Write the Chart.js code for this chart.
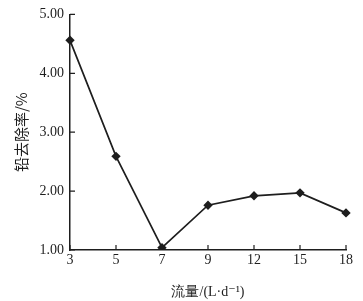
<!DOCTYPE html>
<html>
<head>
<meta charset="utf-8">
<script src="https://cdn.jsdelivr.net/npm/chart.js@4/dist/chart.umd.min.js"></script>
<style>
  html, body { margin: 0; padding: 0; background: #fff; }
  #wrap { width: 363px; height: 301px; }
</style>
</head>
<body>
<div id="wrap"><canvas id="chart" width="363" height="301"></canvas></div>
<script>
/* ================= DATA ================= */
const flows = ["3", "5", "7", "9", "12", "15", "18"];
const removal = [4.56, 2.59, 1.04, 1.76, 1.92, 1.97, 1.63];
const yTicks = [1, 2, 3, 4, 5];

const serif = "'Liberation Serif', 'DejaVu Serif', serif";
const ink = "#1e1e1e";

/* ================= INWARD TICK MARKS ================= */
const innerTicks = {
  id: "innerTicks",
  afterDraw(chart) {
    const ctx = chart.ctx;
    const x = chart.scales.x;
    const y = chart.scales.y;
    ctx.save();
    ctx.strokeStyle = ink;
    ctx.lineWidth = 1.2;
    ctx.beginPath();
    x.ticks.forEach((t, i) => {
      const px = x.getPixelForTick(i);
      ctx.moveTo(px, y.bottom);
      ctx.lineTo(px, y.bottom - 5);
    });
    y.ticks.forEach((t, i) => {
      const py = y.getPixelForTick(i);
      ctx.moveTo(x.left, py);
      ctx.lineTo(x.left + 5, py);
    });
    ctx.stroke();
    ctx.restore();
  }
};

/* ================= CHART ================= */
new Chart(document.getElementById("chart"), {
  type: "line",
  data: {
    labels: flows,
    datasets: [{
      data: removal,
      borderColor: ink,
      borderWidth: 1.7,
      pointStyle: "rectRot",
      pointRadius: 3.5,
      pointBackgroundColor: ink,
      pointBorderColor: ink,
      tension: 0
    }]
  },
  options: {
    responsive: false,
    animation: false,
    layout: { padding: { top: 9, right: 17, left: 12, bottom: 0 } },
    plugins: { legend: { display: false }, tooltip: { enabled: false } },
    scales: {
      x: {
        offset: false,
        grid: { display: false, drawTicks: false },
        border: { display: true, color: ink, width: 1.5 },
        ticks: { color: ink, font: { family: serif, size: 14 }, padding: 2 },
        title: {
          display: true,
          text: "流量/(L·d⁻¹)",
          color: ink,
          font: { family: serif, size: 14 },
          padding: { top: 3, bottom: 0 }
        },
        afterFit(scale) { scale.height = 51; }
      },
      y: {
        min: 1,
        max: 5,
        afterBuildTicks(scale) {
          scale.ticks = yTicks.map(v => ({ value: v }));
        },
        grid: { display: false, drawTicks: false },
        border: { display: true, color: ink, width: 1.5 },
        ticks: {
          color: ink,
          font: { family: serif, size: 14 },
          padding: 6,
          callback: v => v.toFixed(2)
        },
        title: {
          display: true,
          text: "铅去除率/%",
          color: ink,
          font: { family: "'Noto Sans CJK SC', serif", size: 15 },
          padding: { top: 0, bottom: 2 }
        },
        afterFit(scale) { scale.width = 58; }
      }
    }
  },
  plugins: [innerTicks]
});
</script>
</body>
</html>
